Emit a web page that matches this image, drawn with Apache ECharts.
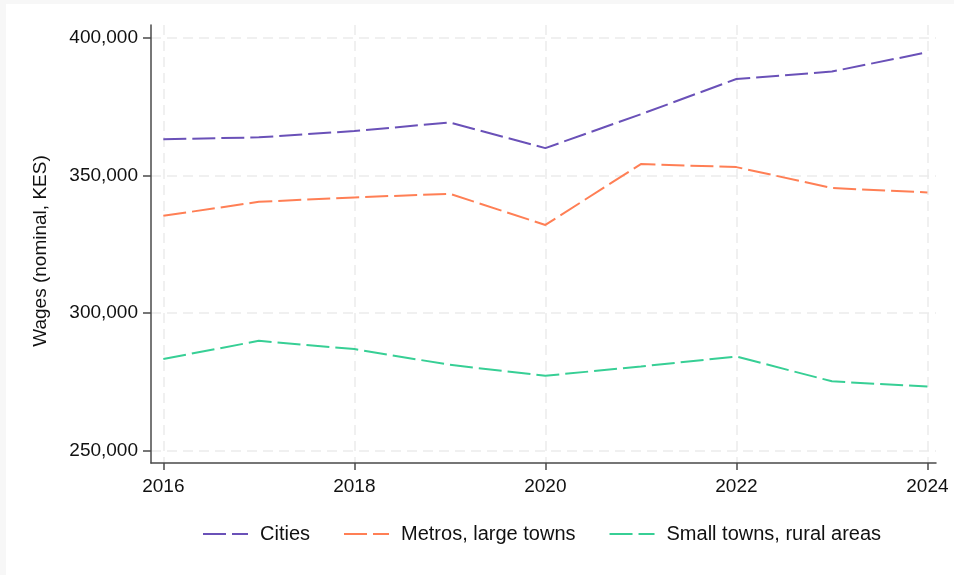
<!DOCTYPE html>
<html>
<head>
<meta charset="utf-8">
<script src="https://cdn.jsdelivr.net/npm/echarts@6/dist/echarts.min.js"></script>
<style>
  html, body { margin: 0; padding: 0; background: #f7f7f7; }
  #chart { position: absolute; left: 6px; top: 4px; width: 948px; height: 571px; background: #ffffff; }
</style>
</head>
<body>
<div id="chart"></div>
<script>
// Annual nominal wages by settlement type
const years = [2016, 2017, 2018, 2019, 2020, 2021, 2022, 2023, 2024];
const cities = [363100, 363800, 366100, 369200, 359900, 372200, 385000, 387700, 394700];
const metros = [335300, 340400, 342000, 343300, 332000, 354100, 353000, 345400, 343800];
const smallTowns = [283300, 289900, 286900, 281200, 277200, 280600, 284200, 275200, 273300];

const xTicks = [2016, 2018, 2020, 2022, 2024];
const yTicks = [250000, 300000, 350000, 400000];

const seriesNames = ['Cities', 'Metros, large towns', 'Small towns, rural areas'];
const seriesColors = ['#6a51b8', '#ff7f55', '#37cf95'];

const fontFamily = '"Liberation Sans", Arial, Helvetica, sans-serif';
const dashPattern = [23, 6];
const gridLine = { show: true, lineStyle: { color: '#ebebeb', width: 1.5, type: [10, 6] } };

function pairs(vals) {
  return years.map((y, i) => [y, vals[i]]);
}

const chart = echarts.init(document.getElementById('chart'));
chart.setOption({
  animation: false,
  textStyle: { fontFamily: fontFamily },
  grid: { left: 145, right: 18, top: 21, bottom: 112, containLabel: false },
  xAxis: {
    type: 'value',
    min: 2015.871,
    max: 2024.09,
    axisLine: { show: true, onZero: false, lineStyle: { color: '#4a4a4a', width: 1.5 } },
    axisTick: { show: true, length: 7, customValues: xTicks, lineStyle: { color: '#4a4a4a', width: 1.5 } },
    axisLabel: { customValues: xTicks, color: '#111', fontSize: 19, margin: 14, formatter: v => String(v) },
    splitLine: gridLine
  },
  yAxis: {
    type: 'value',
    min: 245536,
    max: 404609,
    name: 'Wages (nominal, KES)',
    nameLocation: 'middle',
    nameGap: 101,
    nameTextStyle: { color: '#111', fontSize: 19, padding: [0, 14, 0, 0] },
    axisLine: { show: true, onZero: false, lineStyle: { color: '#4a4a4a', width: 1.5 } },
    axisTick: { show: true, length: 8, customValues: yTicks, lineStyle: { color: '#4a4a4a', width: 1.5 } },
    axisLabel: {
      customValues: yTicks, color: '#111', fontSize: 19, margin: 13,
      formatter: v => v.toLocaleString('en-US')
    },
    splitLine: gridLine
  },
  legend: {
    left: 196,
    top: 520,
    padding: 0,
    itemWidth: 45,
    itemHeight: 14,
    itemGap: 33,
    itemStyle: { opacity: 0 },
    lineStyle: { type: dashPattern, width: 2 },
    textStyle: { color: '#111', fontSize: 20, padding: [0, 0, 0, 7] },
    data: seriesNames
  },
  series: [cities, metros, smallTowns].map((vals, i) => ({
    name: seriesNames[i],
    type: 'line',
    data: pairs(vals),
    symbol: 'none',
    showSymbol: false,
    color: seriesColors[i],
    lineStyle: { color: seriesColors[i], width: 2, type: dashPattern }
  }))
});
</script>
</body>
</html>
